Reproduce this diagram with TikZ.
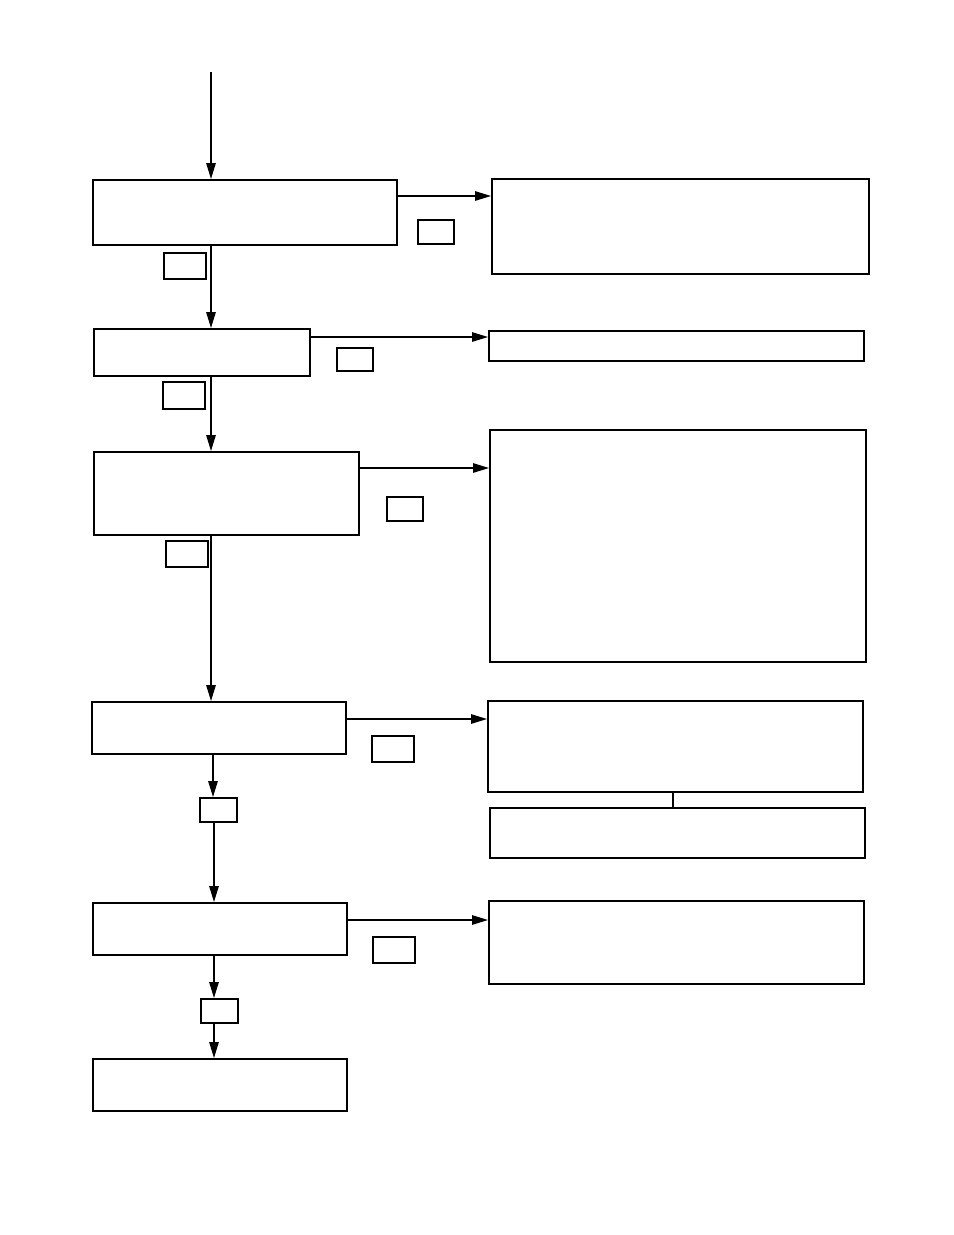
\documentclass[tikz,border=0pt]{standalone}
\usetikzlibrary{arrows.meta}

\tikzset{
  stepbox/.style={draw, line width=1.1pt, inner sep=0pt, anchor=north west},
  tagbox/.style={draw, line width=0.9pt, inner sep=0pt, anchor=north west},
  arr/.style={line width=0.8pt, -{Triangle[length=0.32cm,width=0.19cm]}},
  link/.style={line width=0.8pt}
}

\begin{document}
\begin{tikzpicture}[x=0.02cm,y=-0.02cm]
      \useasboundingbox (0,0) rectangle (954,1235);
      % left column
      \node[stepbox, minimum width=6.08cm, minimum height=1.30cm] (a1) at (92,179)  {};
      \node[stepbox, minimum width=4.32cm, minimum height=0.94cm] (a2) at (93,328)  {};
      \node[stepbox, minimum width=5.30cm, minimum height=1.66cm] (a3) at (93,451)  {};
      \node[stepbox, minimum width=5.08cm, minimum height=1.04cm] (a4) at (91,701)  {};
      \node[stepbox, minimum width=5.08cm, minimum height=1.04cm] (a5) at (92,902)  {};
      \node[stepbox, minimum width=5.08cm, minimum height=1.04cm] (a6) at (92,1058) {};
      % right column
      \node[stepbox, minimum width=7.54cm, minimum height=1.90cm] (b1) at (491,178) {};
      \node[stepbox, minimum width=7.50cm, minimum height=0.60cm] (b2) at (488,330) {};
      \node[stepbox, minimum width=7.52cm, minimum height=4.64cm] (b3) at (489,429) {};
      \node[stepbox, minimum width=7.50cm, minimum height=1.82cm] (b4) at (487,700) {};
      \node[stepbox, minimum width=7.50cm, minimum height=1.00cm] (b4x) at (489,807) {};
      \node[stepbox, minimum width=7.50cm, minimum height=1.66cm] (b5) at (488,900) {};
      % small tags
      \node[tagbox, minimum width=0.72cm, minimum height=0.48cm] (t1r) at (417,219) {};
      \node[tagbox, minimum width=0.84cm, minimum height=0.52cm] (t1d) at (163,252) {};
      \node[tagbox, minimum width=0.72cm, minimum height=0.46cm] (t2r) at (336,347) {};
      \node[tagbox, minimum width=0.84cm, minimum height=0.54cm] (t2d) at (162,381) {};
      \node[tagbox, minimum width=0.72cm, minimum height=0.48cm] (t3r) at (386,496) {};
      \node[tagbox, minimum width=0.84cm, minimum height=0.52cm] (t3d) at (165,540) {};
      \node[tagbox, minimum width=0.84cm, minimum height=0.52cm] (t4r) at (371,735) {};
      \node[tagbox, minimum width=0.74cm, minimum height=0.48cm] (t4d) at (199,797) {};
      \node[tagbox, minimum width=0.84cm, minimum height=0.52cm] (t5r) at (372,936) {};
      \node[tagbox, minimum width=0.74cm, minimum height=0.48cm] (t5d) at (200,998) {};
      \coordinate (start) at (211,72);
      % vertical flow
      \draw[arr] (start) -- (start |- a1.north);
      \draw[arr] (a1.south -| start) -- (a2.north -| start);
      \draw[arr] (a2.south -| start) -- (a3.north -| start);
      \draw[arr] (a3.south -| start) -- (a4.north -| start);
      \draw[arr] (a4.south -| 213,0) -- (t4d.north -| 213,0);
      \draw[arr] (t4d.south -| 214,0) -- (a5.north -| 214,0);
      \draw[arr] (a5.south -| 214,0) -- (t5d.north -| 214,0);
      \draw[arr] (t5d.south -| 214,0) -- (a6.north -| 214,0);
      % side branches
      \draw[arr] (a1.east |- 0,196) -- (b1.west |- 0,196);
      \draw[arr] (a2.east |- 0,337) -- (b2.west |- 0,337);
      \draw[arr] (a3.east |- 0,468) -- (b3.west |- 0,468);
      \draw[arr] (a4.east |- 0,719) -- (b4.west |- 0,719);
      \draw[arr] (a5.east |- 0,920) -- (b5.west |- 0,920);
      \draw[link] (b4.south -| 673,0) -- (b4x.north -| 673,0);
\end{tikzpicture}
\end{document}
